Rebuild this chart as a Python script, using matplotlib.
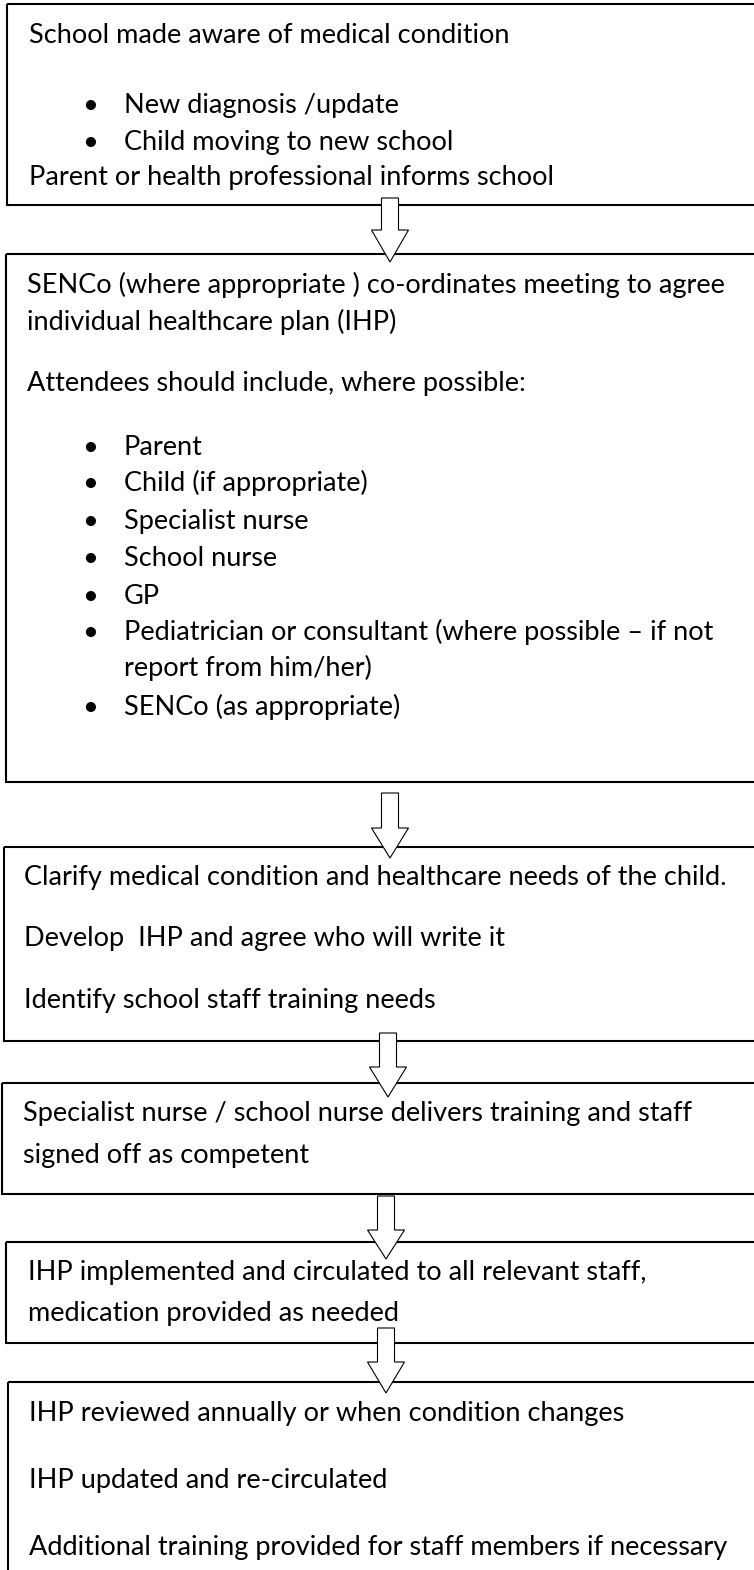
import matplotlib
matplotlib.use("Agg")
import matplotlib.pyplot as plt
from matplotlib.patches import Rectangle, Polygon
from matplotlib import font_manager

# text of each step in the flowchart
step1_lines = ["School made aware of medical condition"]
step1_bullets = ["New diagnosis /update", "Child moving to new school"]
step1_tail = ["Parent or health professional informs school"]

step2_lines = ["SENCo (where appropriate ) co-ordinates meeting to agree",
               "individual healthcare plan (IHP)",
               "Attendees should include, where possible:"]
step2_bullets = ["Parent", "Child (if appropriate)", "Specialist nurse", "School nurse", "GP",
                 "Pediatrician or consultant (where possible \u2013 if not\nreport from him/her)",
                 "SENCo (as appropriate)"]

step3_lines = ["Clarify medical condition and healthcare needs of the child.",
               "Develop  IHP and agree who will write it",
               "Identify school staff training needs"]
step4_lines = ["Specialist nurse / school nurse delivers training and staff",
               "signed off as competent"]
step5_lines = ["IHP implemented and circulated to all relevant staff,",
               "medication provided as needed"]
step6_lines = ["IHP reviewed annually or when condition changes",
               "IHP updated and re-circulated",
               "Additional training provided for staff members if necessary"]

# pick a narrow font close to Calibri
font = "DejaVu Sans"
for name in ["Liberation Sans Narrow", "Lato", "Roboto"]:
    try:
        font_manager.findfont(name, fallback_to_default=False)
        font = name
        break
    except Exception:
        pass

W, H = 754, 1570
fig = plt.figure(figsize=(W / 100, H / 100), dpi=100)
ax = fig.add_axes([0, 0, 1, 1])
ax.set_xlim(0, W)
ax.set_ylim(H, 0)
ax.axis("off")

fs = 19.5
kw = dict(fontsize=fs, family=font, va="baseline", ha="left", color="black")

# boxes: (left, top, bottom)
boxes = [(7, 4, 205), (6, 254, 782), (4, 847, 1041), (2, 1083, 1194), (6, 1242, 1343), (8, 1382, 1600)]
for left, top, bottom in boxes:
    ax.add_patch(Rectangle((left, top), 770 - left, bottom - top, fill=False,
                           edgecolor="black", linewidth=1.5, zorder=1))

# block arrows: (center x, shaft top, head base, tip)
arrows = [(390, 198, 230, 262), (390, 793, 828, 858), (388, 1033, 1067, 1097),
          (386, 1196, 1230, 1259), (386, 1328, 1362, 1393)]
for cx, top, base, tip in arrows:
    sw, hw = 8.5, 18.5
    pts = [(cx - sw, top), (cx + sw, top), (cx + sw, base), (cx + hw, base),
           (cx, tip), (cx - hw, base), (cx - sw, base)]
    ax.add_patch(Polygon(pts, closed=True, facecolor="white", edgecolor="black",
                         linewidth=0.8, zorder=3))


def bullet(y, s):
    ax.text(82, y, "\u2022", **kw)
    ax.text(124, y, s, **kw)


# step 1
ax.text(29, 43, step1_lines[0], **kw)
for y, s in zip([113, 150], step1_bullets):
    bullet(y, s)
ax.text(29, 185, step1_tail[0], **kw)

# step 2
for y, s in zip([293, 330, 391], step2_lines):
    ax.text(27, y, s, **kw)
b2_y = [455, 491, 529, 566, 604, 640, 715]
for y, s in zip(b2_y, step2_bullets):
    if "\n" in s:
        first, second = s.split("\n")
        bullet(y, first)
        ax.text(124, 676, second, **kw)
    else:
        bullet(y, s)

# steps 3-6
for x, ys, lines in [(24, [885, 946, 1008], step3_lines),
                     (23, [1121, 1163], step4_lines),
                     (28, [1280, 1321], step5_lines),
                     (29, [1421, 1488, 1555], step6_lines)]:
    for y, s in zip(ys, lines):
        ax.text(x, y, s, **kw)

fig.savefig("out.png", dpi=100, facecolor="white")
